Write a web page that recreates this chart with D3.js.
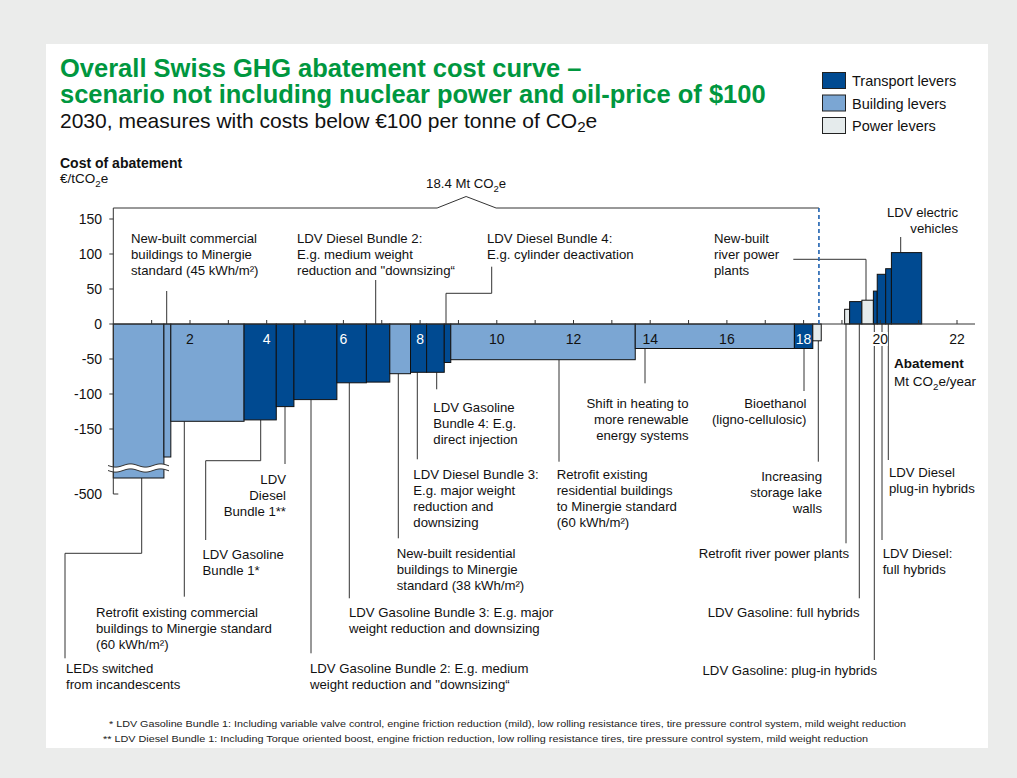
<!DOCTYPE html>
<html>
<head>
<meta charset="utf-8">
<script src="https://cdn.jsdelivr.net/npm/d3@7"></script>
<style>
  body { margin: 0; background: #ebeceb; }
  svg { display: block; font-family: "Liberation Sans", Arial, sans-serif; }
</style>
</head>
<body>
<svg id="chart" width="1017" height="778"></svg>
<script>
// abatement measures, in merit order (left to right)
const measures = [
  "LEDs switched from incandescents",
  "New-built commercial buildings (45 kWh/m2)",
  "Retrofit existing commercial buildings (60 kWh/m2)",
  "LDV Gasoline Bundle 1",
  "LDV Diesel Bundle 1",
  "LDV Gasoline Bundle 2",
  "LDV Gasoline Bundle 3",
  "LDV Diesel Bundle 2",
  "New-built residential buildings (38 kWh/m2)",
  "LDV Diesel Bundle 3",
  "LDV Gasoline Bundle 4",
  "LDV Diesel Bundle 4",
  "Retrofit existing residential buildings (60 kWh/m2)",
  "Shift in heating to renewable energy systems",
  "Bioethanol (ligno-cellulosic)",
  "Increasing storage lake walls",
  "",   // unlabelled gap, measures at ~0 cost
  "Retrofit river power plants",
  "LDV Gasoline: full hybrids",
  "New-built river power plants",
  "LDV Gasoline: plug-in hybrids",
  "LDV Diesel: full hybrids",
  "LDV Diesel plug-in hybrids",
  "LDV electric vehicles"
];
// abatement potential, Mt CO2e/year
const widths = [1.32, 0.18, 1.91, 0.84, 0.46, 1.12, 0.77, 0.61, 0.54, 0.42, 0.46, 0.17,
                4.81, 4.15, 0.48, 0.22, 0.61, 0.13, 0.32, 0.30, 0.10, 0.22, 0.15, 0.79];
// cost of abatement, EUR/tCO2e
const costs = [-340, -190, -139, -137, -118, -108, -84, -83, -71, -69, -69, -55,
               -51, -35, -35, -24, 0, 21, 32, 34, 47, 71, 79, 102];
// T = transport, B = building, P = power
const groups = ["B", "B", "B", "T", "T", "T", "T", "T", "B", "T", "T", "T",
                "B", "B", "T", "P", "-", "P", "T", "P", "T", "T", "T", "T"];

const yTicks = [150, 100, 50, 0, -50, -100, -150, -500];
const xTickLabels = [2, 4, 6, 8, 10, 12, 14, 16, 18, 20, 22];
const totalNegative = 18.4;

const legendNames = ["Transport levers", "Building levers", "Power levers"];
const legendKeys = ["T", "B", "P"];
const colors = { T: "#004a91", B: "#7ba6d3", P: "#e5ebec" };

const footnotes = [
  "* LDV Gasoline Bundle 1: Including variable valve control, engine friction reduction (mild), low rolling resistance tires, tire pressure control system, mild weight reduction",
  "** LDV Diesel Bundle 1: Including Torque oriented boost, engine friction reduction, low rolling resistance tires, tire pressure control system, mild weight reduction"
];

// label layout: i = bar index, side = where the leader leaves the bar
const annotations = [
  { i: 1, side: "top", lx: 166.7, path: [[166.7, 291]], tx: 131, ty: 243, anchor: "start",
    lines: ["New-built commercial", "buildings to Minergie", "standard (45 kWh/m²)"] },
  { i: 7, side: "top", lx: 375.7, path: [[375.7, 280]], tx: 297, ty: 243, anchor: "start",
    lines: ["LDV Diesel Bundle 2:", "E.g. medium weight", "reduction and \"downsizing\u201C"] },
  { i: 11, side: "top", lx: 446, path: [[446, 293.3], [491.7, 293.3], [491.7, 266.7]], tx: 487, ty: 243, anchor: "start",
    lines: ["LDV Diesel Bundle 4:", "E.g. cylinder deactivation"] },
  { i: 19, side: "top", lx: 866, path: [[866, 259.3], [793.3, 259.3]], tx: 714, ty: 243, anchor: "start",
    lines: ["New-built", "river power", "plants"] },
  { i: 23, side: "top", lx: 900.7, path: [[900.7, 237]], tx: 958, ty: 217, anchor: "end",
    lines: ["LDV electric", "vehicles"] },

  { i: 0, side: "bottom", lx: 141.7, path: [[141.7, 553.3], [65, 553.3], [65, 658.3]], tx: 66, ty: 673.3, anchor: "start",
    lines: ["LEDs switched", "from incandescents"] },
  { i: 2, side: "bottom", lx: 184.3, path: [[184.3, 596.7]], tx: 96, ty: 616.7, anchor: "start",
    lines: ["Retrofit existing commercial", "buildings to Minergie standard", "(60 kWh/m²)"] },
  { i: 3, side: "bottom", lx: 260.7, path: [[260.7, 460.7], [205.7, 460.7], [205.7, 540]], tx: 202.5, ty: 559.3, anchor: "start",
    lines: ["LDV Gasoline", "Bundle 1*"] },
  { i: 4, side: "bottom", lx: 285, path: [[285, 464]], tx: 286, ty: 484, anchor: "end",
    lines: ["LDV", "Diesel", "Bundle 1**"] },
  { i: 5, side: "bottom", lx: 311, path: [[311, 653.3]], tx: 310, ty: 673.3, anchor: "start",
    lines: ["LDV Gasoline Bundle 2: E.g. medium", "weight reduction and \"downsizing\u201C"] },
  { i: 6, side: "bottom", lx: 349.3, path: [[349.3, 598.3]], tx: 349, ty: 617.3, anchor: "start",
    lines: ["LDV Gasoline Bundle 3: E.g. major", "weight reduction and downsizing"] },
  { i: 8, side: "bottom", lx: 398.3, path: [[398.3, 538.3]], tx: 396.7, ty: 558.3, anchor: "start",
    lines: ["New-built residential", "buildings to Minergie", "standard (38 kWh/m²)"] },
  { i: 9, side: "bottom", lx: 417.3, path: [[417.3, 459.3]], tx: 413.3, ty: 479.3, anchor: "start",
    lines: ["LDV Diesel Bundle 3:", "E.g. major weight", "reduction and", "downsizing"] },
  { i: 10, side: "bottom", lx: 436.7, path: [[436.7, 389.3]], tx: 433.3, ty: 412, anchor: "start",
    lines: ["LDV Gasoline", "Bundle 4: E.g.", "direct injection"] },
  { i: 12, side: "bottom", lx: 559, path: [[559, 461.7]], tx: 556.7, ty: 479.3, anchor: "start",
    lines: ["Retrofit existing", "residential  buildings", "to Minergie standard", "(60 kWh/m²)"] },
  { i: 13, side: "bottom", lx: 645, path: [[645, 383.3]], tx: 688.5, ty: 408, anchor: "end",
    lines: ["Shift in heating to", "more renewable", "energy systems"] },
  { i: 14, side: "bottom", lx: 804, path: [[804, 391]], tx: 806.5, ty: 408, anchor: "end",
    lines: ["Bioethanol", "(ligno-cellulosic)"] },
  { i: 15, side: "bottom", lx: 818.3, path: [[818.3, 461.7]], tx: 822, ty: 481, anchor: "end",
    lines: ["Increasing", "storage lake", "walls"] },
  { i: 17, side: "bottom", lx: 846, path: [[846, 543.3]], tx: 849, ty: 558.3, anchor: "end",
    lines: ["Retrofit river power plants"] },
  { i: 18, side: "bottom", lx: 859.3, path: [[859.3, 598.3]], tx: 859.5, ty: 616.7, anchor: "end",
    lines: ["LDV Gasoline: full hybrids"] },
  { i: 20, side: "bottom", lx: 874.3, path: [[874.3, 660]], tx: 877, ty: 675, anchor: "end",
    lines: ["LDV Gasoline: plug-in hybrids"] },
  { i: 21, side: "bottom", lx: 882, path: [[882, 540]], tx: 882.7, ty: 558.3, anchor: "start",
    lines: ["LDV Diesel:", "full hybrids"] },
  { i: 22, side: "bottom", lx: 888.3, path: [[888.3, 460]], tx: 889, ty: 476.7, anchor: "start",
    lines: ["LDV Diesel", "plug-in hybrids"] }
];

const svg = d3.select("#chart");

// white panel on the grey page
svg.append("rect")
  .attr("x", 46).attr("y", 44)
  .attr("width", 942).attr("height", 704)
  .attr("fill", "#ffffff");

// scales (y axis is broken below -200)
const x = d3.scaleLinear().domain([0, 22]).range([113.3, 957]);
const y = d3.scaleLinear().domain([-500, -200, 150]).range([494, 464, 219]);

// cumulative bar positions
let acc = 0;
const bars = measures.map((m, i) => {
  const b = { name: m, x0: acc, x1: acc + widths[i], cost: costs[i], group: groups[i] };
  acc += widths[i];
  return b;
});

// helper: text with CO2e subscript
function co2Text(sel, before, after) {
  sel.append("tspan").text(before + "CO");
  sel.append("tspan").attr("dy", 4).attr("font-size", "0.72em").text("2");
  sel.append("tspan").attr("dy", -4).text("e" + (after || ""));
}

// ---- titles ----
const green = "#00973f";
svg.append("text")
  .attr("x", 60).attr("y", 77)
  .attr("font-size", 25.5).attr("font-weight", "bold").attr("fill", green)
  .text("Overall Swiss GHG abatement cost curve \u2013");
svg.append("text")
  .attr("x", 60).attr("y", 103)
  .attr("font-size", 25.5).attr("font-weight", "bold").attr("fill", green)
  .text("scenario not including nuclear power and oil-price of $100");
const sub = svg.append("text")
  .attr("x", 60).attr("y", 128)
  .attr("font-size", 21).attr("fill", "#111");
co2Text(sub, "2030, measures with costs below \u20AC100 per tonne of ");

svg.append("text")
  .attr("x", 60).attr("y", 168)
  .attr("font-size", 14).attr("font-weight", "bold").attr("fill", "#111")
  .text("Cost of abatement");
co2Text(svg.append("text").attr("x", 60).attr("y", 183).attr("font-size", 13.5).attr("fill", "#111"), "\u20AC/t");

// ---- legend ----
const legend = svg.append("g");
legendKeys.forEach((k, i) => {
  legend.append("rect")
    .attr("x", 822.5).attr("y", 72.5 + i * 22.5)
    .attr("width", 23).attr("height", 16)
    .attr("fill", colors[k]).attr("stroke", "#222").attr("stroke-width", 1);
  legend.append("text")
    .attr("x", 852).attr("y", 86 + i * 22.5)
    .attr("font-size", 14.5).attr("fill", "#111")
    .text(legendNames[i]);
});

// ---- 18.4 Mt brace ----
const braceY = 208;
const xEnd = x(totalNegative);
const xMid = (x(0) + xEnd) / 2;
svg.append("path")
  .attr("d", d3.line()([[x(0), braceY], [xMid - 29, braceY], [xMid, braceY - 11.5],
                        [xMid + 30, braceY], [xEnd, braceY]]))
  .attr("fill", "none").attr("stroke", "#333").attr("stroke-width", 1);
co2Text(svg.append("text").attr("x", xMid).attr("y", 188).attr("text-anchor", "middle")
  .attr("font-size", 13.2).attr("fill", "#111"), "18.4 Mt ");

// ---- leader lines (behind bars) ----
const leaders = svg.append("g");
annotations.forEach(a => {
  const c = costs[a.i];
  const yStart = a.side === "top" ? y(Math.max(c, 0)) : y(Math.min(c, 0));
  leaders.append("path")
    .attr("d", d3.line()([[a.lx, yStart]].concat(a.path)))
    .attr("fill", "none").attr("stroke", "#333").attr("stroke-width", 1);
});

// ---- bars ----
svg.append("g")
  .selectAll("rect")
  .data(bars.filter(b => b.group !== "-"))
  .join("rect")
  .attr("x", d => x(d.x0))
  .attr("y", d => y(Math.max(d.cost, 0)))
  .attr("width", d => x(d.x1) - x(d.x0))
  .attr("height", d => Math.abs(y(d.cost) - y(0)))
  .attr("fill", d => colors[d.group])
  .attr("stroke", "#111")
  .attr("stroke-width", 1);

// ---- axis break on the first bar ----
const waveX = d3.range(108, 170, 1);
const wave = (x0, base) => base + 1.6 * Math.sin((x0 - 108) / 30 * 2 * Math.PI);
const upper = waveX.map(v => [v, wave(v, 465.5)]);
const lower = waveX.map(v => [v, wave(v, 470.5)]);
svg.append("path")
  .attr("d", d3.line()(upper.concat(lower.slice().reverse())) + "Z")
  .attr("fill", "#ffffff").attr("stroke", "none");
[upper, lower].forEach(pts => {
  svg.append("path")
    .attr("d", d3.line()(pts))
    .attr("fill", "none").attr("stroke", "#333").attr("stroke-width", 1);
});

// ---- y axis ----
const yAxisG = svg.append("g");
yAxisG.append("line")
  .attr("x1", x(0)).attr("x2", x(0))
  .attr("y1", braceY).attr("y2", y(-500))
  .attr("stroke", "#333").attr("stroke-width", 1);
yTicks.forEach(t => {
  yAxisG.append("line")
    .attr("x1", t === -500 ? x(0) : x(0) - 4).attr("x2", t === -500 ? x(0) + 5 : x(0))
    .attr("y1", y(t)).attr("y2", y(t))
    .attr("stroke", "#333").attr("stroke-width", 1);
  yAxisG.append("text")
    .attr("x", 102).attr("y", y(t) + 5)
    .attr("text-anchor", "end")
    .attr("font-size", 14).attr("fill", "#111")
    .text(t);
});

// ---- x axis ----
const xAxisG = svg.append("g");
xAxisG.append("line")
  .attr("x1", x(0)).attr("x2", 975)
  .attr("y1", y(0)).attr("y2", y(0))
  .attr("stroke", "#333").attr("stroke-width", 1);
xAxisG.selectAll(".tick")
  .data(d3.range(1, 23))
  .join("line")
  .attr("x1", d => x(d)).attr("x2", d => x(d))
  .attr("y1", y(0) - 4).attr("y2", y(0))
  .attr("stroke", "#333").attr("stroke-width", 1);

xTickLabels.forEach(v => {
  const bar = bars.find(b => v >= b.x0 && v < b.x1);
  const onDark = bar && bar.group === "T" && bar.cost < 0;
  if (v > totalNegative) {
    xAxisG.append("rect")
      .attr("x", x(v) - 7.5).attr("y", y(0) + 8)
      .attr("width", 15).attr("height", 14)
      .attr("fill", "#ffffff");
  }
  xAxisG.append("text")
    .attr("x", x(v)).attr("y", y(0) + 20)
    .attr("text-anchor", "middle")
    .attr("font-size", 14)
    .attr("fill", onDark ? "#ffffff" : "#111")
    .text(v);
});

svg.append("text")
  .attr("x", 894).attr("y", 368)
  .attr("font-size", 13.5).attr("font-weight", "bold").attr("fill", "#111")
  .text("Abatement");
co2Text(svg.append("text").attr("x", 894).attr("y", 386).attr("font-size", 13.5).attr("fill", "#111"), "Mt ", "/year");

// ---- dashed marker at 18.4 Mt ----
svg.append("line")
  .attr("x1", xEnd).attr("x2", xEnd)
  .attr("y1", braceY).attr("y2", y(0))
  .attr("stroke", "#1f62b0").attr("stroke-width", 1.6)
  .attr("stroke-dasharray", "4,3");

// ---- measure labels ----
const labels = svg.append("g").attr("font-size", 13.2).attr("fill", "#111");
annotations.forEach(a => {
  const t = labels.append("text")
    .attr("x", a.tx).attr("y", a.ty)
    .attr("text-anchor", a.anchor);
  a.lines.forEach((ln, k) => {
    t.append("tspan")
      .attr("x", a.tx)
      .attr("dy", k === 0 ? 0 : 16)
      .text(ln);
  });
});

// ---- footnotes ----
svg.append("text")
  .attr("x", 109).attr("y", 727)
  .attr("font-family", "'Liberation Sans Narrow', 'Liberation Sans', Arial, sans-serif")
  .attr("font-size", 9.5).attr("fill", "#222")
  .attr("textLength", 797).attr("lengthAdjust", "spacingAndGlyphs")
  .text(footnotes[0]);
svg.append("text")
  .attr("x", 103).attr("y", 742)
  .attr("font-family", "'Liberation Sans Narrow', 'Liberation Sans', Arial, sans-serif")
  .attr("font-size", 9.5).attr("fill", "#222")
  .attr("textLength", 765).attr("lengthAdjust", "spacingAndGlyphs")
  .text(footnotes[1]);
</script>
</body>
</html>
